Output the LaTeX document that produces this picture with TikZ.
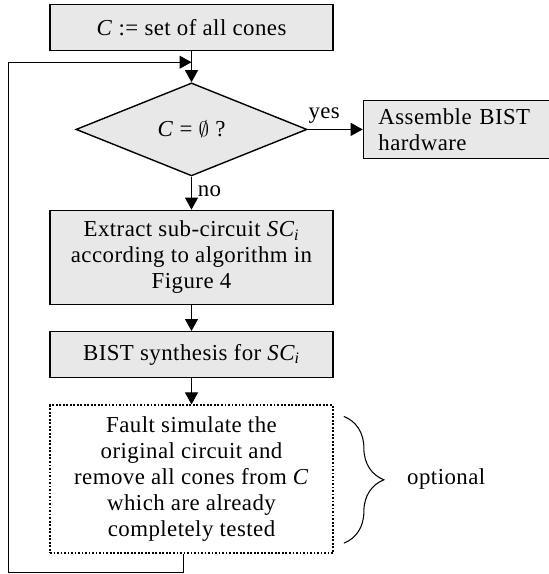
\documentclass[tikz,border=0pt]{standalone}
\usepackage{fontspec}
\setmainfont[LetterSpace=2]{Liberation Serif}
\usepackage{amssymb}
\usetikzlibrary{arrows.meta, positioning, shapes.geometric, decorations.pathreplacing}
\definecolor{boxgray}{HTML}{E8E8E8}

\begin{document}
\begin{tikzpicture}[node distance=0.52cm, font=\fontsize{13}{14.8}\selectfont,
  block/.style={rectangle, draw, line width=0.8pt, fill=boxgray, minimum width=5.66cm, minimum height=0.92cm, align=center, inner sep=0pt},
  decision/.style={diamond, draw, line width=0.8pt, fill=boxgray, minimum width=4.62cm, minimum height=1.86cm, inner sep=0pt},
  optbox/.style={rectangle, draw, densely dotted, line width=1pt, minimum width=5.66cm, minimum height=2.96cm, align=center, inner sep=0pt},
  arrow/.style={-{Triangle[length=0.24cm, width=0.26cm]}, line width=0.6pt}]

\useasboundingbox (0,0) rectangle (10.98,-11.48);

\node[block] (init) at (3.83,-0.55) {\textit{C} := set of all cones};
\node[decision, below=0.62cm of init] (empty) {\textit{C} = $\emptyset$ ?};
\node[block, right=1.1cm of empty, minimum width=3.72cm, minimum height=1.16cm, text width=3.12cm, align=left, inner xsep=0.3cm] (assemble) {Assemble BIST\\hardware};
\node[block, below=0.66cm of empty, minimum height=1.88cm] (extract) {Extract sub-circuit \textit{SC\textsubscript{i}}\\according to algorithm in\\Figure 4};
\node[block, below=of extract] (synth) {BIST synthesis for \textit{SC\textsubscript{i}}};
\node[optbox, below=of synth] (fsim) {Fault simulate the\\original circuit and\\remove all cones from \textit{C}\\which are already\\completely tested};
\node[right=1.46cm of fsim.east, inner sep=0pt] (opt) {optional};

\coordinate[below=0.22cm of init] (join);
\coordinate[below=0.36cm of fsim.south, xshift=-0.16cm] (loopbot);
\coordinate (loopleft) at ([xshift=-0.82cm]init.west |- join);

\draw[arrow] (init) -- (empty);
\draw[arrow] (empty) -- node[above, pos=0.3] {yes} (assemble);
\draw[arrow] (empty) -- node[right, pos=0.45] {no} (extract);
\draw[arrow] (extract) -- (synth);
\draw[arrow] (synth) -- (fsim);
\draw[arrow] (fsim.south -| loopbot) -- (loopbot) -| (loopleft) -- (join);
\draw[line width=0.6pt, decorate, decoration={brace, amplitude=0.8cm}] ([shift={(0.2cm,-0.24cm)}]fsim.north east) -- ([shift={(0.2cm,0.22cm)}]fsim.south east);
\end{tikzpicture}
\end{document}
